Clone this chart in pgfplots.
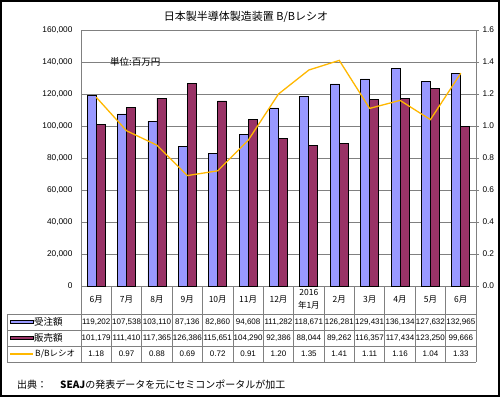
\documentclass[border=0pt]{standalone}
\usepackage{pgfplots}
\pgfplotsset{compat=1.18}
\usepackage{fontspec}
\setmainfont{Liberation Sans}
\newfontfamily\jp{Noto Sans CJK JP}
\definecolor{ord}{HTML}{9999FF}
\definecolor{sal}{HTML}{993366}
\definecolor{bbc}{HTML}{FFB800}
\definecolor{grd}{HTML}{808080}
\begin{document}
\begin{tikzpicture}[x=1pt,y=1pt]
\useasboundingbox (0,0) rectangle (500,397);
\fill[white] (0,0) rectangle (500,397);
\begin{axis}[at={(81pt,111pt)}, anchor=south west, scale only axis,
  width=395pt, height=256pt,
  /pgf/number format/assume math mode=true,
  xmin=-0.5, xmax=12.5, ymin=0, ymax=160000,
  xtick=\empty, ytick={0,20000,40000,60000,80000,100000,120000,140000,160000},
  ymajorgrids, grid style={grd, line width=0.8pt},
  axis line style={grd, line width=0.8pt},
  major tick length=0pt, scaled y ticks=false,
  yticklabel style={font=\fontsize{8.3}{9}\selectfont, xshift=-5pt,
    /pgf/number format/.cd, fixed, 1000 sep={,}},
  ybar=0pt, bar width=9pt]
\addplot[draw=black, line width=0.8pt, fill=ord] coordinates {
(0,119202) (1,107538) (2,103110) (3,87136) (4,82860) (5,94608) (6,111282)
(7,118671) (8,126281) (9,129431) (10,136134) (11,127632) (12,132965)};
\addplot[draw=black, line width=0.8pt, fill=sal] coordinates {
(0,101179) (1,111410) (2,117365) (3,126386) (4,115651) (5,104290) (6,92386)
(7,88044) (8,89262) (9,116357) (10,117434) (11,123250) (12,99666)};
\end{axis}
\begin{axis}[at={(81pt,111pt)}, anchor=south west, scale only axis,
  width=395pt, height=256pt,
  /pgf/number format/assume math mode=true,
  xmin=-0.5, xmax=12.5, ymin=0, ymax=1.6,
  axis x line=none, axis y line*=right,
  ytick={0,0.2,0.4,0.6,0.8,1.0,1.2,1.4,1.6},
  axis line style={grd, line width=0.8pt},
  tick style={grd, line width=0.8pt},
  major tick length=3pt, tick align=outside,
  yticklabel style={font=\fontsize{8.3}{9}\selectfont,
    /pgf/number format/.cd, fixed, fixed zerofill, precision=1}]
\addplot[bbc, line width=1.3pt, mark=none] coordinates {
(0,1.18) (1,0.97) (2,0.88) (3,0.69) (4,0.72) (5,0.91) (6,1.20)
(7,1.35) (8,1.41) (9,1.11) (10,1.16) (11,1.04) (12,1.33)};
\end{axis}
% unit label
\node[anchor=west, font=\jp\fontsize{9.5}{10}\selectfont, inner sep=0pt] at (110,335.5) {単位:百万円};
% title
\node[font=\jp\fontsize{11}{12}\selectfont] at (246,380) {日本製半導体製造装置 B/Bレシオ};
% table grid
\begin{scope}[grd, line width=0.8pt]
\foreach \k in {0,...,13} { \draw ({81+30.3846*\k},111) -- ({81+30.3846*\k},35); }
\draw (7,83) -- (7,35);
\foreach \yy in {83,67,51,35} { \draw (7,\yy) -- (476,\yy); }
\end{scope}
% categories
\foreach \c [count=\i from 0] in {6月,7月,8月,9月,10月,11月,12月,{},2月,3月,4月,5月,6月}
  { \node[font=\jp\fontsize{8.5}{9}\selectfont] at ({81+30.3846*(\i+0.5)},98) {\c}; }
\node[font=\jp\fontsize{8.5}{13}\selectfont, align=center] at ({81+30.3846*7.5},98) {2016\\年1月};
% rows
\foreach \v [count=\i from 0] in {119202,107538,103110,87136,82860,94608,111282,118671,126281,129431,136134,127632,132965}
  { \node[font=\fontsize{8}{9}\selectfont, inner sep=0pt] at ({81+30.3846*(\i+0.5)},75) {\pgfmathprintnumber[assume math mode=true, fixed, 1000 sep={,}]{\v}}; }
\foreach \v [count=\i from 0] in {101179,111410,117365,126386,115651,104290,92386,88044,89262,116357,117434,123250,99666}
  { \node[font=\fontsize{8}{9}\selectfont, inner sep=0pt] at ({81+30.3846*(\i+0.5)},59) {\pgfmathprintnumber[assume math mode=true, fixed, 1000 sep={,}]{\v}}; }
\foreach \v [count=\i from 0] in {1.18,0.97,0.88,0.69,0.72,0.91,1.20,1.35,1.41,1.11,1.16,1.04,1.33}
  { \node[font=\fontsize{8}{9}\selectfont, inner sep=0pt] at ({81+30.3846*(\i+0.5)},43) {\pgfmathprintnumber[assume math mode=true, fixed, fixed zerofill, precision=2]{\v}}; }
% legend keys
\draw[black, line width=0.8pt, fill=ord] (10,73.5) rectangle (33,77);
\node[anchor=west, font=\jp\fontsize{9.5}{10}\selectfont, inner sep=0pt] at (34,75) {受注額};
\draw[black, line width=0.8pt, fill=sal] (10,57.5) rectangle (33,61);
\node[anchor=west, font=\jp\fontsize{9.5}{10}\selectfont, inner sep=0pt] at (34,59) {販売額};
\draw[bbc, line width=1.3pt] (10,43) -- (33,43);
\node[anchor=west, font=\jp\fontsize{8.5}{10}\selectfont, inner sep=0pt] at (35,43) {B/Bレシオ};
% footnote
\node[anchor=west, font=\jp\fontsize{10}{11}\selectfont, inner sep=0pt] at (17,12) {出典：};
\node[anchor=west, font=\jp\fontsize{10}{11}\selectfont, inner sep=0pt] at (60,12) {\textbf{SEAJ}の発表データを元にセミコンポータルが加工};
% outer frame
\draw[black, line width=2pt] (1,1) rectangle (499,396);
\end{tikzpicture}
\end{document}
